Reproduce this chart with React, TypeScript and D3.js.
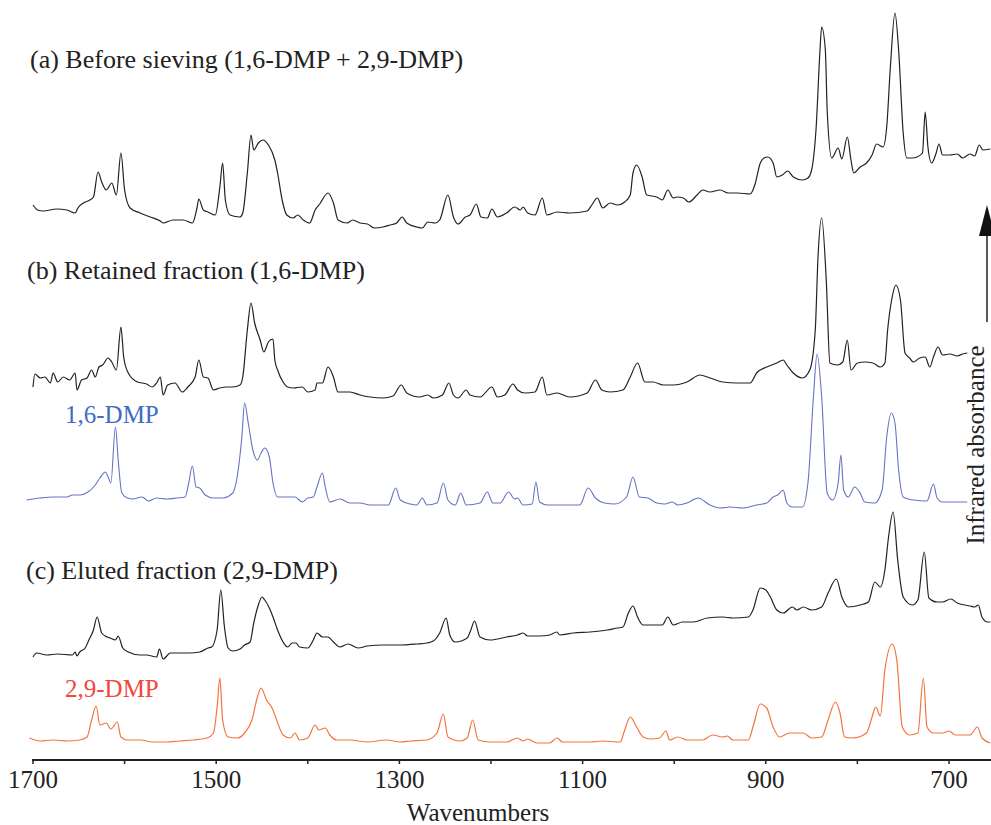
import React from "react";
import * as d3 from "d3";

// Spectra: [wavenumber (cm-1), relative absorbance (arbitrary units)]
const spectrumA: [number, number][] = [
  [1700,25],[1695,20],[1689,19],[1674,21],[1663,20],[1654,17],[1651,22],[1645,27],[1638,30],[1634,33],[1629,58],[1625,48],[1620,40],[1614,47],[1609,35],[1604,77],[1600,40],[1594,22],[1583,17],[1572,13],[1561,9],[1558,7],[1547,10],[1536,10],[1526,7],[1521,22],[1519,31],[1514,20],[1509,18],[1501,15],[1496,43],[1493,67],[1490,30],[1485,15],[1474,13],[1471,17],[1466,57],[1462,95],[1459,80],[1454,87],[1449,90],[1443,85],[1436,70],[1433,57],[1428,30],[1423,15],[1416,12],[1411,15],[1405,10],[1398,7],[1392,20],[1387,26],[1378,37],[1372,27],[1367,10],[1357,7],[1351,10],[1343,7],[1335,6],[1327,2],[1318,3],[1310,5],[1303,7],[1297,13],[1292,7],[1281,3],[1275,2],[1269,8],[1261,7],[1256,10],[1247,35],[1241,13],[1236,6],[1228,13],[1223,15],[1216,26],[1211,13],[1204,12],[1199,21],[1193,13],[1183,17],[1174,23],[1168,20],[1165,23],[1160,17],[1152,15],[1144,32],[1139,15],[1128,18],[1114,17],[1095,19],[1090,25],[1084,32],[1078,22],[1070,27],[1062,25],[1054,28],[1048,35],[1045,57],[1041,65],[1035,53],[1030,35],[1019,33],[1013,30],[1007,40],[1001,32],[997,33],[990,32],[984,28],[975,35],[969,40],[961,38],[950,40],[941,37],[931,37],[917,36],[912,45],[906,67],[902,72],[898,73],[892,67],[888,53],[882,55],[876,59],[870,53],[860,50],[854,52],[850,60],[845,103],[841,177],[839,203],[835,180],[833,120],[828,72],[821,82],[817,71],[811,93],[807,70],[804,57],[797,63],[790,67],[784,75],[779,86],[772,83],[768,103],[764,163],[759,217],[755,180],[750,97],[746,72],[740,72],[735,73],[729,77],[726,118],[723,83],[719,67],[714,77],[711,86],[707,75],[699,75],[691,76],[685,72],[677,76],[672,74],[667,85],[663,80],[655,81]
];

const spectrumB: [number, number][] = [
  [1700,13],[1698,26],[1692,22],[1687,23],[1681,17],[1678,27],[1673,18],[1667,23],[1660,20],[1654,27],[1652,10],[1647,20],[1641,22],[1636,30],[1632,23],[1628,33],[1624,35],[1618,42],[1614,38],[1609,30],[1604,73],[1601,43],[1596,27],[1586,18],[1576,16],[1570,13],[1565,17],[1561,23],[1558,5],[1553,15],[1545,17],[1537,8],[1531,13],[1523,23],[1519,40],[1514,23],[1509,22],[1503,10],[1496,12],[1488,13],[1482,13],[1474,15],[1471,23],[1466,70],[1462,97],[1458,77],[1452,60],[1448,48],[1443,58],[1438,61],[1436,40],[1433,30],[1427,18],[1422,13],[1416,12],[1406,13],[1400,8],[1392,10],[1390,17],[1384,17],[1378,33],[1372,23],[1367,8],[1354,8],[1343,5],[1332,3],[1318,2],[1307,4],[1298,15],[1292,7],[1278,3],[1269,5],[1263,2],[1253,5],[1246,17],[1241,5],[1236,2],[1227,10],[1223,5],[1212,3],[1199,13],[1193,3],[1185,5],[1176,16],[1171,10],[1163,7],[1152,8],[1144,23],[1139,5],[1128,7],[1114,3],[1095,7],[1086,20],[1079,10],[1070,8],[1056,10],[1048,23],[1040,37],[1032,18],[1023,18],[1012,15],[1001,15],[986,18],[972,25],[961,22],[947,18],[931,17],[917,17],[910,27],[899,33],[888,37],[881,40],[877,35],[870,27],[860,22],[852,30],[846,70],[843,143],[839,182],[834,120],[830,37],[822,35],[816,38],[811,60],[807,30],[800,37],[792,38],[783,37],[775,33],[770,37],[767,70],[762,103],[758,115],[753,100],[748,47],[743,42],[739,38],[732,42],[726,43],[721,33],[717,43],[712,53],[707,45],[699,46],[691,44],[685,46],[680,47]
];

const reference16DMP: [number, number][] = [
  [1707,5],[1692,7],[1678,8],[1663,8],[1657,10],[1649,10],[1640,13],[1632,20],[1627,27],[1621,33],[1618,28],[1615,22],[1610,78],[1607,45],[1603,12],[1597,7],[1591,6],[1581,8],[1574,4],[1565,7],[1554,6],[1543,7],[1534,8],[1530,22],[1526,39],[1522,18],[1518,17],[1512,10],[1503,7],[1493,7],[1482,12],[1476,35],[1472,68],[1469,102],[1465,82],[1460,55],[1455,45],[1451,52],[1447,57],[1442,48],[1438,22],[1433,8],[1423,8],[1414,8],[1406,3],[1400,7],[1394,8],[1390,18],[1384,32],[1381,18],[1376,3],[1365,6],[1354,2],[1343,2],[1332,0],[1312,0],[1304,17],[1299,5],[1288,1],[1281,0],[1275,7],[1270,0],[1259,2],[1252,22],[1247,5],[1239,0],[1233,12],[1227,0],[1212,2],[1204,13],[1198,2],[1190,2],[1181,13],[1174,6],[1171,7],[1165,0],[1155,1],[1151,23],[1147,3],[1138,0],[1103,0],[1094,17],[1086,7],[1076,2],[1065,1],[1052,8],[1045,28],[1038,8],[1029,7],[1019,2],[1010,1],[1002,3],[996,0],[986,2],[974,7],[961,0],[950,-3],[939,-2],[925,-3],[910,0],[899,2],[892,8],[887,10],[881,15],[877,2],[871,-2],[860,-2],[854,22],[848,108],[844,151],[839,108],[833,12],[827,5],[821,22],[818,50],[815,15],[810,8],[803,18],[797,12],[792,3],[781,2],[773,15],[768,68],[763,92],[759,82],[755,35],[750,8],[739,5],[724,4],[717,21],[713,7],[707,3],[680,3]
];

const spectrumC: [number, number][] = [
  [1700,3],[1696,7],[1685,5],[1673,6],[1657,5],[1654,8],[1652,4],[1649,8],[1643,12],[1639,20],[1634,30],[1630,43],[1625,27],[1619,23],[1616,22],[1610,20],[1607,24],[1602,12],[1596,8],[1583,5],[1576,5],[1565,3],[1562,11],[1558,1],[1550,7],[1540,7],[1529,7],[1518,8],[1509,12],[1505,13],[1499,30],[1495,70],[1491,33],[1487,12],[1482,9],[1474,11],[1469,15],[1463,18],[1459,37],[1454,55],[1450,63],[1447,60],[1442,52],[1438,43],[1433,30],[1427,18],[1422,13],[1417,17],[1413,17],[1409,13],[1400,12],[1394,20],[1390,27],[1384,23],[1378,23],[1372,18],[1365,13],[1356,16],[1345,12],[1335,14],[1318,15],[1299,15],[1281,16],[1270,17],[1263,19],[1256,27],[1249,42],[1245,25],[1239,18],[1226,22],[1222,30],[1218,39],[1212,23],[1201,20],[1183,23],[1171,25],[1165,27],[1160,24],[1147,24],[1136,25],[1128,28],[1125,25],[1110,27],[1092,28],[1073,30],[1062,32],[1056,33],[1050,47],[1045,54],[1040,43],[1034,35],[1023,35],[1013,35],[1007,43],[1001,35],[991,38],[979,38],[964,42],[947,43],[936,42],[919,43],[914,50],[906,72],[900,70],[895,63],[888,50],[881,47],[871,53],[866,50],[859,53],[850,50],[839,53],[832,67],[823,81],[817,63],[810,53],[797,55],[788,58],[781,78],[775,73],[770,90],[766,123],[761,148],[756,100],[750,63],[740,55],[734,60],[727,108],[722,62],[713,58],[707,58],[698,61],[691,57],[677,54],[672,53],[668,55],[664,43],[658,38],[655,38]
];

const reference29DMP: [number, number][] = [
  [1704,7],[1692,4],[1678,5],[1663,4],[1649,5],[1641,8],[1636,25],[1631,39],[1627,20],[1620,22],[1615,16],[1608,23],[1604,8],[1597,5],[1583,5],[1569,3],[1554,3],[1540,4],[1525,5],[1510,7],[1503,12],[1499,38],[1496,67],[1493,25],[1487,8],[1477,7],[1469,12],[1461,25],[1455,48],[1451,57],[1445,45],[1439,37],[1434,25],[1427,10],[1419,7],[1414,12],[1409,5],[1400,7],[1392,20],[1388,15],[1381,17],[1376,10],[1368,5],[1354,5],[1335,3],[1314,5],[1299,3],[1288,4],[1270,5],[1259,12],[1252,31],[1247,8],[1234,4],[1226,7],[1220,25],[1214,5],[1201,3],[1183,3],[1171,7],[1165,4],[1160,6],[1150,2],[1136,2],[1128,7],[1122,3],[1092,3],[1078,4],[1059,3],[1054,15],[1048,28],[1041,18],[1034,8],[1026,6],[1016,7],[1009,14],[1005,5],[996,8],[986,5],[969,5],[958,10],[947,8],[942,9],[936,5],[919,5],[914,18],[906,41],[899,37],[892,18],[885,8],[874,12],[859,12],[850,7],[839,8],[832,25],[824,43],[819,32],[814,8],[805,7],[790,12],[784,28],[780,38],[775,29],[770,75],[762,101],[757,85],[751,18],[743,10],[734,12],[728,67],[724,18],[717,12],[707,12],[700,14],[693,10],[677,10],[669,18],[664,7],[655,2]
];

const xTicks = [1700, 1600, 1500, 1400, 1300, 1200, 1100, 1000, 900, 800, 700];
const xTickLabels = ["1700", "1500", "1300", "1100", "900", "700"];

const titles = [
  "(a) Before sieving (1,6-DMP + 2,9-DMP)",
  "(b) Retained fraction (1,6-DMP)",
  "(c) Eluted fraction (2,9-DMP)",
];
const refLabels = ["1,6-DMP", "2,9-DMP"];
const xTitle = "Wavenumbers";
const yTitle = "Infrared absorbance";

const W = 991;
const H = 825;
const FONT = "'Liberation Serif', 'Times New Roman', Times, serif";

export default function App() {
  const x = d3.scaleLinear().domain([1700, 700]).range([33, 949]);
  const y = d3.scaleLinear().domain([0, 760]).range([760, 0]);
  const axisY = y(0);

  const series = [
    { data: spectrumA, offset: 530, color: "#222222", width: 1.2 },
    { data: spectrumB, offset: 360, color: "#222222", width: 1.2 },
    { data: reference16DMP, offset: 255, color: "#6673c4", width: 1.1 },
    { data: spectrumC, offset: 100, color: "#222222", width: 1.2 },
    { data: reference29DMP, offset: 15, color: "#f2743f", width: 1.2 },
  ];

  const lineFor = (offset: number) =>
    d3
      .line<[number, number]>()
      .x((d) => x(d[0]))
      .y((d) => y(offset + d[1]))
      .curve(d3.curveMonotoneX);

  return (
    <svg
      width={W}
      height={H}
      viewBox={`0 0 ${W} ${H}`}
      style={{ position: "absolute", left: 0, top: 0, background: "#fff" }}
      fontFamily={FONT}
    >
      <rect x={0} y={0} width={W} height={H} fill="#fff" />
      {series.map((s, i) => (
        <path
          key={i}
          d={lineFor(s.offset)([...s.data].reverse()) || ""}
          fill="none"
          stroke={s.color}
          strokeWidth={s.width}
          strokeLinejoin="round"
        />
      ))}

      <text x={30} y={68} fontSize={26} fill="#222">{titles[0]}</text>
      <text x={27} y={279} fontSize={26} fill="#222">{titles[1]}</text>
      <text x={26} y={579} fontSize={26} fill="#222">{titles[2]}</text>
      <text x={65} y={423} fontSize={25} fill="#3f6cc2">{refLabels[0]}</text>
      <text x={65} y={697} fontSize={25} fill="#f0483a">{refLabels[1]}</text>

      {/* x axis */}
      <line x1={x(1701)} x2={W} y1={axisY} y2={axisY} stroke="#222" strokeWidth={2} />
      {xTicks.map((t) => (
        <line key={t} x1={x(t)} x2={x(t)} y1={axisY} y2={axisY + 4} stroke="#222" strokeWidth={1.5} />
      ))}
      {xTickLabels.map((l) => (
        <text key={l} x={x(+l)} y={788} fontSize={25} textAnchor="middle" fill="#222">{l}</text>
      ))}
      <text x={478} y={821} fontSize={25} textAnchor="middle" fill="#222">{xTitle}</text>

      {/* y direction arrow and title */}
      <line x1={987} x2={987} y1={322} y2={228} stroke="#222" strokeWidth={1.5} />
      <polygon points="987,205 979,236 995,236" fill="#111" />
      <text transform="translate(984,445) rotate(-90)" fontSize={25} textAnchor="middle" fill="#222">{yTitle}</text>
    </svg>
  );
}
